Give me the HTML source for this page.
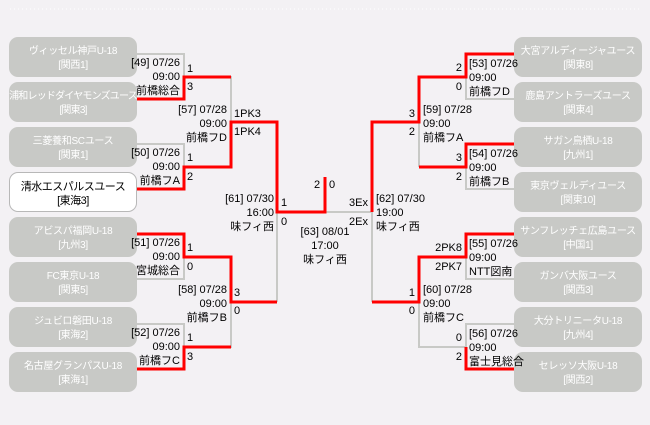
<!DOCTYPE html>
<html><head><meta charset="utf-8"><style>
body{margin:0;background:#f3f1f4;}
#c{position:relative;width:650px;height:425px;overflow:hidden;background:#f3f1f4;font-family:"Liberation Sans","Noto Sans CJK JP",sans-serif;font-size:11px;color:#000;}
.b{position:absolute;width:128px;height:40px;border-radius:9px;background:#c8c9c6;color:#fff;text-align:center;font-size:10px;line-height:14px;box-sizing:border-box;padding-top:8px;white-space:nowrap;letter-spacing:-0.3px;}
.w{background:#fff;border:1px solid #b8b8b8;color:#000;padding-top:7px;font-size:11px;letter-spacing:-0.5px;}
.t{position:absolute;line-height:14px;white-space:nowrap;}
.r{text-align:right;}
svg{position:absolute;left:0;top:0;}
</style></head><body><div id="c">
<svg width="650" height="425" fill="none">
<line x1="10" y1="9" x2="640" y2="9" stroke="#fff" stroke-dasharray="1 3"/>
<g stroke="#c8c9c6" stroke-width="2">
<polyline points="137,54 184,54 184,77"/>
<polyline points="137,144 184,144 184,167"/>
<polyline points="137,279 184,279 184,257"/>
<polyline points="137,324 184,324 184,347"/>
<polyline points="184,77 231,77 231,122"/>
<polyline points="231,302 231,347 184,347"/>
<polyline points="277,212 277,302"/>
<polyline points="325,212 372,212 372,302"/>
<polyline points="514,99 466,99 466,77"/>
<polyline points="514,189 466,189 466,167"/>
<polyline points="419,122 419,167"/>
<polyline points="514,279 466,279 466,257"/>
<polyline points="514,324 466,324 466,347 419,347 419,302"/>
</g>
<g stroke="#f00" stroke-width="3" stroke-linejoin="miter">
<polyline points="137,99 184,99 184,77 231,77"/>
<polyline points="137,189 184,189 184,167 231,167 231,122 277,122 277,212 325,212 325,177"/>
<polyline points="137,234 184,234 184,257 231,257 231,302 277,302"/>
<polyline points="137,369 184,369 184,347 231,347"/>
<polyline points="514,54 466,54 466,77 419,77 419,122 372,122 372,212"/>
<polyline points="514,144 466,144 466,167 419,167"/>
<polyline points="514,234 466,234 466,257 419,257 419,302 372,302"/>
<polyline points="514,369 466,369 466,347"/>
</g>
</svg>
<div class="b" style="left:9px;top:37px">ヴィッセル神戸U-18<br>[関西1]</div>
<div class="b" style="left:9px;top:82px;letter-spacing:-0.8px">浦和レッドダイヤモンズユース<br>[関東3]</div>
<div class="b" style="left:9px;top:127px">三菱養和SCユース<br>[関東1]</div>
<div class="b w" style="left:9px;top:172px">清水エスパルスユース<br>[東海3]</div>
<div class="b" style="left:9px;top:217px">アビスパ福岡U-18<br>[九州3]</div>
<div class="b" style="left:9px;top:262px">FC東京U-18<br>[関東5]</div>
<div class="b" style="left:9px;top:307px">ジュビロ磐田U-18<br>[東海2]</div>
<div class="b" style="left:9px;top:352px">名古屋グランパスU-18<br>[東海1]</div>
<div class="b" style="left:514px;top:37px">大宮アルディージャユース<br>[関東8]</div>
<div class="b" style="left:514px;top:82px">鹿島アントラーズユース<br>[関東4]</div>
<div class="b" style="left:514px;top:127px">サガン鳥栖U-18<br>[九州1]</div>
<div class="b" style="left:514px;top:172px">東京ヴェルディユース<br>[関東10]</div>
<div class="b" style="left:514px;top:217px">サンフレッチェ広島ユース<br>[中国1]</div>
<div class="b" style="left:514px;top:262px">ガンバ大阪ユース<br>[関西3]</div>
<div class="b" style="left:514px;top:307px">大分トリニータU-18<br>[九州4]</div>
<div class="b" style="left:514px;top:352px">セレッソ大阪U-18<br>[関西2]</div>

<div class="t r" style="right:470px;top:56px">[49] 07/26<br>09:00<br>前橋総合</div>
<div class="t" style="left:187px;top:62px">1</div><div class="t" style="left:187px;top:80px">3</div>
<div class="t r" style="right:470px;top:146px">[50] 07/26<br>09:00<br>前橋フA</div>
<div class="t" style="left:187px;top:151px">1</div><div class="t" style="left:187px;top:170px">2</div>
<div class="t r" style="right:470px;top:236px">[51] 07/26<br>09:00<br>宮城総合</div>
<div class="t" style="left:187px;top:241px">1</div><div class="t" style="left:187px;top:260px">0</div>
<div class="t r" style="right:470px;top:326px">[52] 07/26<br>09:00<br>前橋フC</div>
<div class="t" style="left:187px;top:331px">1</div><div class="t" style="left:187px;top:350px">3</div>
<div class="t r" style="right:423px;top:103px">[57] 07/28<br>09:00<br>前橋フD</div>
<div class="t" style="left:234px;top:107px">1PK3</div><div class="t" style="left:234px;top:125px">1PK4</div>
<div class="t r" style="right:423px;top:283px">[58] 07/28<br>09:00<br>前橋フB</div>
<div class="t" style="left:234px;top:286px">3</div><div class="t" style="left:234px;top:304px">0</div>
<div class="t r" style="right:376px;top:192px">[61] 07/30<br>16:00<br>味フィ西</div>
<div class="t" style="left:281px;top:196px">1</div><div class="t" style="left:281px;top:215px">0</div>
<div class="t" style="left:314px;top:178px">2</div><div class="t" style="left:329px;top:178px">0</div>
<div class="t" style="left:290px;top:225px;width:70px;text-align:center">[63] 08/01<br>17:00<br>味フィ西</div>
<div class="t r" style="right:282px;top:196px">3Ex</div><div class="t r" style="right:282px;top:215px">2Ex</div>
<div class="t" style="left:376px;top:192px">[62] 07/30<br>19:00<br>味フィ西</div>
<div class="t" style="left:423px;top:103px">[59] 07/28<br>09:00<br>前橋フA</div>
<div class="t r" style="right:235px;top:107px">3</div><div class="t r" style="right:235px;top:125px">2</div>
<div class="t" style="left:423px;top:283px">[60] 07/28<br>09:00<br>前橋フC</div>
<div class="t r" style="right:235px;top:286px">1</div><div class="t r" style="right:235px;top:304px">0</div>
<div class="t" style="left:469px;top:57px">[53] 07/26<br>09:00<br>前橋フD</div>
<div class="t r" style="right:188px;top:61px">2</div><div class="t r" style="right:188px;top:80px">0</div>
<div class="t" style="left:469px;top:147px">[54] 07/26<br>09:00<br>前橋フB</div>
<div class="t r" style="right:188px;top:151px">3</div><div class="t r" style="right:188px;top:170px">2</div>
<div class="t" style="left:469px;top:237px">[55] 07/26<br>09:00<br>NTT図南</div>
<div class="t r" style="right:188px;top:241px">2PK8</div><div class="t r" style="right:188px;top:260px">2PK7</div>
<div class="t" style="left:469px;top:327px">[56] 07/26<br>09:00<br>富士見総合</div>
<div class="t r" style="right:188px;top:331px">0</div><div class="t r" style="right:188px;top:350px">2</div>
</div></body></html>
